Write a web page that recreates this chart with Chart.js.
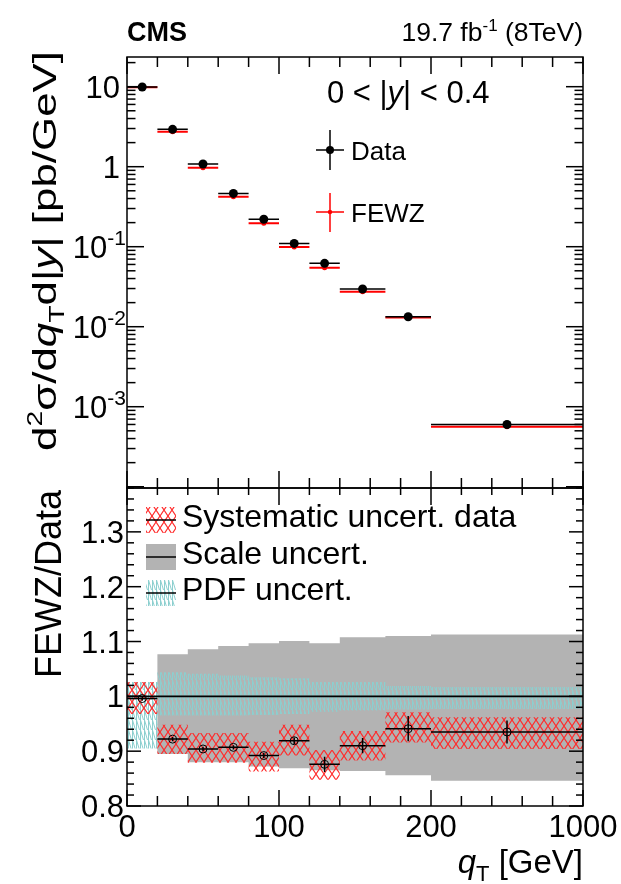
<!DOCTYPE html>
<html>
<head>
<meta charset="utf-8">
<script src="https://cdn.jsdelivr.net/npm/chart.js@4.4.0/dist/chart.umd.min.js"></script>
<style>
  body { margin: 0; background: #fff; }
  #wrap { position: relative; width: 621px; height: 884px; }
  canvas { position: absolute; left: 0; top: 0; }
</style>
</head>
<body>
<div id="wrap">
  <canvas id="topChart" width="621" height="884"></canvas>
  <canvas id="ratioChart" width="621" height="884"></canvas>
</div>
<script>
// qT bin edges [GeV]
const binEdges = [0, 20, 40, 60, 80, 100, 120, 140, 170, 200, 1000];

// d2sigma/dqT d|y| [pb/GeV]
const dataXsec = [9.9, 2.93, 1.08, 0.464, 0.22, 0.110, 0.062, 0.0296, 0.0133, 6.0e-4];
const fewzXsec = [9.86, 2.74, 0.97, 0.42, 0.196, 0.099, 0.0546, 0.0274, 0.0130, 5.6e-4];

// FEWZ/Data
const ratio     = [0.996, 0.922, 0.904, 0.907, 0.892, 0.919, 0.876, 0.910, 0.941, 0.935];
const ratioStat = [0.004, 0.004, 0.004, 0.004, 0.005, 0.006, 0.014, 0.014, 0.023, 0.021];
const sysLo   = [0.968, 0.895, 0.879, 0.879, 0.863, 0.892, 0.848, 0.883, 0.916, 0.904];
const sysHi   = [1.026, 0.948, 0.933, 0.933, 0.917, 0.948, 0.902, 0.937, 0.971, 0.962];
const scaleLo = [1.000, 0.895, 0.880, 0.880, 0.872, 0.869, 0.865, 0.864, 0.856, 0.846];
const scaleHi = [1.000, 1.077, 1.086, 1.092, 1.097, 1.101, 1.097, 1.108, 1.110, 1.113];
const pdfLo   = [0.905, 0.965, 0.965, 0.965, 0.966, 0.968, 0.972, 0.974, 0.976, 0.977];
const pdfHi   = [1.026, 1.044, 1.041, 1.038, 1.035, 1.033, 1.026, 1.026, 1.019, 1.017];

// axis labels
const xTickPos = [0, 5, 10, 15];
const xTickLabels = ['0', '100', '200', '1000'];
const ratioTicks = [0.8, 0.9, 1.0, 1.1, 1.2, 1.3];
const ratioTickLabels = ['0.8', '0.9', '1', '1.1', '1.2', '1.3'];
const logTickExp = [1, 0, -1, -2, -3];

// the x axis is drawn in "bin units": 20 GeV per unit up to 200, then 200-1000 over 5 units
function toAxis(q) {
  return q <= 200 ? q / 20 : 10 + (q - 200) / 160;
}

function segs(vals) {
  const out = [];
  vals.forEach((v, i) => {
    const a = toAxis(binEdges[i]), b = toAxis(binEdges[i + 1]);
    out.push({x: a, y: v}, {x: b, y: v}, {x: b, y: null});
  });
  return out;
}
function centers(vals) {
  return vals.map((v, i) => ({x: (toAxis(binEdges[i]) + toAxis(binEdges[i + 1])) / 2, y: v}));
}
function vbars(vals, errs) {
  const out = [];
  centers(vals).forEach((p, i) => {
    out.push({x: p.x, y: p.y - errs[i]}, {x: p.x, y: p.y + errs[i]}, {x: p.x, y: null});
  });
  return out;
}
function steps(vals) {
  const out = vals.map((v, i) => ({x: toAxis(binEdges[i]), y: v}));
  out.push({x: toAxis(binEdges[binEdges.length - 1]), y: vals[vals.length - 1]});
  return out;
}

const FONT = '"Liberation Sans", Arial, sans-serif';
function fontOf(p) {
  return (p.italic ? 'italic ' : '') + (p.bold ? 'bold ' : '') + p.size + 'px ' + FONT;
}
function richWidth(ctx, parts) {
  let w = 0;
  parts.forEach(p => { ctx.font = fontOf(p); w += ctx.measureText(p.t).width; });
  return w;
}
function drawRich(ctx, parts, x, y, align) {
  const w = richWidth(ctx, parts);
  let cx = align === 'right' ? x - w : align === 'center' ? x - w / 2 : x;
  ctx.textAlign = 'left';
  ctx.textBaseline = 'alphabetic';
  parts.forEach(p => {
    ctx.font = fontOf(p);
    ctx.fillText(p.t, cx, y + (p.dy || 0));
    cx += ctx.measureText(p.t).width;
  });
}
function line(ctx, x1, y1, x2, y2) {
  ctx.beginPath(); ctx.moveTo(x1, y1); ctx.lineTo(x2, y2); ctx.stroke();
}

// x ticks on one edge; dir = +1 pointing down, -1 pointing up
function xTicks(ctx, xs, yEdge, dir, minorLen, majorLen) {
  for (let u = 0; u <= 15; u++) {
    const px = xs.getPixelForValue(u);
    const len = u % 5 === 0 ? majorLen : minorLen;
    line(ctx, px, yEdge, px, yEdge + dir * len);
  }
}

const topCtx = document.getElementById('topChart').getContext('2d');
const ratioCtx = document.getElementById('ratioChart').getContext('2d');

function makePattern(w, h, color, lw, draw) {
  const c = document.createElement('canvas');
  c.width = w; c.height = h;
  const g = c.getContext('2d');
  g.strokeStyle = color; g.lineWidth = lw;
  g.beginPath(); draw(g, w, h); g.stroke();
  return ratioCtx.createPattern(c, 'repeat');
}
const redHatch = makePattern(8, 12, '#ff2a2a', 1.2, (g, w, h) => {
  g.moveTo(0, 0); g.lineTo(w, h); g.moveTo(w, 0); g.lineTo(0, h);
});
const tealHatch = makePattern(4, 10, '#8ccfcf', 1, (g, w, h) => {
  g.moveTo(0.5, 0); g.lineTo(0.5, h); g.moveTo(0.5, 0); g.lineTo(3.5, h);
});
const GRAY = '#b3b3b3';

const topAxes = {
  id: 'topAxes',
  afterDraw(chart) {
    const ctx = chart.ctx, a = chart.chartArea;
    const xs = chart.scales.x, ys = chart.scales.y;
    ctx.save();
    ctx.strokeStyle = '#000';
    ctx.fillStyle = '#000';
    ctx.lineWidth = 1.5;
    ctx.strokeRect(a.left, a.top, a.right - a.left, a.bottom - a.top);
    xTicks(ctx, xs, a.top, 1, 10, 17);
    xTicks(ctx, xs, a.bottom, -1, 10, 17);
    for (let e = -5; e <= 1; e++) {
      for (let m = 1; m <= 9; m++) {
        const v = m * Math.pow(10, e);
        if (v < ys.min || v > ys.max) continue;
        const py = ys.getPixelForValue(v);
        const len = m === 1 ? 17 : 8.5;
        line(ctx, a.left, py, a.left + len, py);
        line(ctx, a.right, py, a.right - len, py);
      }
    }
    logTickExp.forEach(e => {
      const py = ys.getPixelForValue(Math.pow(10, e)) + 11;
      if (e === 1) drawRich(ctx, [{t: '10', size: 31}], 120, py, 'right');
      else if (e === 0) drawRich(ctx, [{t: '1', size: 31}], 120, py, 'right');
      else drawRich(ctx, [{t: '10', size: 31}, {t: String(e), size: 21, dy: -13}], 126, py, 'right');
    });
    // header
    drawRich(ctx, [{t: 'CMS', size: 27, bold: true}], a.left, 41, 'left');
    drawRich(ctx, [{t: '19.7 fb', size: 26.5}, {t: '-1', size: 17, dy: -10}, {t: ' (8TeV)', size: 26.5}], a.right, 41, 'right');
    // y title, stretched along its length to match the original
    const title = [
      {t: 'd', size: 34}, {t: '2', size: 22, dy: -14}, {t: 'σ/d', size: 34},
      {t: 'q', size: 34, italic: true}, {t: 'T', size: 22, dy: 8},
      {t: 'd|', size: 34}, {t: 'y', size: 34, italic: true}, {t: '| [pb/GeV]', size: 34}
    ];
    ctx.save();
    ctx.translate(56, 251);
    ctx.rotate(-Math.PI / 2);
    ctx.scale(400 / richWidth(ctx, title), 1);
    drawRich(ctx, title, 0, 0, 'center');
    ctx.restore();
    // selection and legend
    drawRich(ctx, [{t: '0 < |', size: 31}, {t: 'y', size: 31, italic: true}, {t: '| < 0.4', size: 31}], 327, 103, 'left');
    ctx.lineWidth = 1.5;
    line(ctx, 330, 130, 330, 170);
    line(ctx, 316, 150, 344, 150);
    ctx.beginPath(); ctx.arc(330, 150, 4, 0, 2 * Math.PI); ctx.fill();
    drawRich(ctx, [{t: 'Data', size: 26}], 351, 160, 'left');
    ctx.strokeStyle = '#ff0000';
    ctx.fillStyle = '#ff0000';
    line(ctx, 330, 193, 330, 232);
    line(ctx, 316, 212, 344, 212);
    ctx.beginPath(); ctx.arc(330, 212, 2.2, 0, 2 * Math.PI); ctx.fill();
    ctx.fillStyle = '#000';
    drawRich(ctx, [{t: 'FEWZ', size: 26}], 351, 222, 'left');
    ctx.restore();
  }
};

const ratioAxes = {
  id: 'ratioAxes',
  afterDraw(chart) {
    const ctx = chart.ctx, a = chart.chartArea;
    const xs = chart.scales.x, ys = chart.scales.y;
    ctx.save();
    ctx.strokeStyle = '#000';
    ctx.fillStyle = '#000';
    ctx.lineWidth = 1.5;
    ctx.strokeRect(a.left, a.top, a.right - a.left, a.bottom - a.top);
    xTicks(ctx, xs, a.top, 1, 7, 17);
    xTicks(ctx, xs, a.bottom, -1, 10, 16);
    for (let k = 0; k <= 29; k++) {
      const v = 0.8 + k * 0.02;
      if (v > ys.max) break;
      const py = ys.getPixelForValue(v);
      const len = k % 5 === 0 ? 14 : 7;
      line(ctx, a.left, py, a.left + len, py);
      line(ctx, a.right, py, a.right - len, py);
    }
    ratioTicks.forEach((v, i) => {
      drawRich(ctx, [{t: ratioTickLabels[i], size: 31}], 124, ys.getPixelForValue(v) + 11, 'right');
    });
    xTickPos.forEach((u, i) => {
      drawRich(ctx, [{t: xTickLabels[i], size: 31}], xs.getPixelForValue(u), 837, 'center');
    });
    drawRich(ctx, [{t: 'q', size: 33, italic: true}, {t: 'T', size: 22, dy: 8}, {t: ' [GeV]', size: 33}], a.right, 873, 'right');
    ctx.save();
    ctx.translate(61, 584);
    ctx.rotate(-Math.PI / 2);
    drawRich(ctx, [{t: 'FEWZ/Data', size: 36}], 0, 0, 'center');
    ctx.restore();
    // legend
    const entries = [
      {y: 520, fill: redHatch, text: 'Systematic uncert. data'},
      {y: 557, fill: GRAY, text: 'Scale uncert.'},
      {y: 593, fill: tealHatch, text: 'PDF uncert.'}
    ];
    entries.forEach(en => {
      ctx.fillStyle = en.fill;
      ctx.fillRect(146, en.y - 13, 30, 26);
      ctx.strokeStyle = '#000';
      ctx.lineWidth = 1.5;
      line(ctx, 146, en.y, 176, en.y);
      ctx.fillStyle = '#000';
      drawRich(ctx, [{t: en.text, size: 32}], 182, en.y + 7, 'left');
    });
    ctx.restore();
  }
};

const common = (padding, yScale) => ({
  responsive: false,
  animation: false,
  devicePixelRatio: 1,
  events: [],
  layout: {padding: padding},
  plugins: {legend: {display: false}, tooltip: {enabled: false}},
  elements: {line: {tension: 0}},
  scales: {
    x: {type: 'linear', min: 0, max: 15, display: false},
    y: yScale
  }
});

new Chart(topCtx, {
  type: 'line',
  data: {
    datasets: [
      {data: segs(fewzXsec), borderColor: '#ff0000', borderWidth: 2, pointRadius: 0, order: 4},
      {data: centers(fewzXsec), showLine: false, pointRadius: 2.5, pointBackgroundColor: '#ff0000', pointBorderWidth: 0, order: 3},
      {data: segs(dataXsec), borderColor: '#000', borderWidth: 1.5, pointRadius: 0, order: 2},
      {data: centers(dataXsec), showLine: false, pointRadius: 4.5, pointBackgroundColor: '#000', pointBorderWidth: 0, order: 1}
    ]
  },
  options: common({left: 127, right: 38, top: 57, bottom: 396},
    {type: 'logarithmic', min: 9.64e-5, max: 23.5, display: false}),
  plugins: [topAxes]
});

new Chart(ratioCtx, {
  type: 'line',
  data: {
    datasets: [
      {data: steps(scaleHi), stepped: true, fill: '+1', backgroundColor: GRAY, borderColor: 'transparent', borderWidth: 0, pointRadius: 0, order: 9},
      {data: steps(scaleLo), stepped: true, fill: false, borderColor: 'transparent', borderWidth: 0, pointRadius: 0, order: 9},
      {data: steps(pdfHi), stepped: true, fill: '+1', backgroundColor: tealHatch, borderColor: 'transparent', borderWidth: 0, pointRadius: 0, order: 8},
      {data: steps(pdfLo), stepped: true, fill: false, borderColor: 'transparent', borderWidth: 0, pointRadius: 0, order: 8},
      {data: steps(sysHi), stepped: true, fill: '+1', backgroundColor: redHatch, borderColor: 'transparent', borderWidth: 0, pointRadius: 0, order: 7},
      {data: steps(sysLo), stepped: true, fill: false, borderColor: 'transparent', borderWidth: 0, pointRadius: 0, order: 7},
      {data: [{x: 0, y: 1}, {x: 15, y: 1}], borderColor: '#000', borderWidth: 1.8, pointRadius: 0, order: 6},
      {data: segs(ratio), borderColor: '#000', borderWidth: 1.5, pointRadius: 0, order: 5},
      {data: vbars(ratio, ratioStat), borderColor: '#000', borderWidth: 1.5, pointRadius: 0, order: 4},
      {data: centers(ratio), showLine: false, pointRadius: 4, pointBackgroundColor: 'rgba(0,0,0,0)', pointBorderColor: '#000', pointBorderWidth: 1, order: 3}
    ]
  },
  options: common({left: 127, right: 38, top: 488, bottom: 78},
    {type: 'linear', min: 0.8, max: 1.38, display: false}),
  plugins: [ratioAxes]
});
</script>
</body>
</html>
